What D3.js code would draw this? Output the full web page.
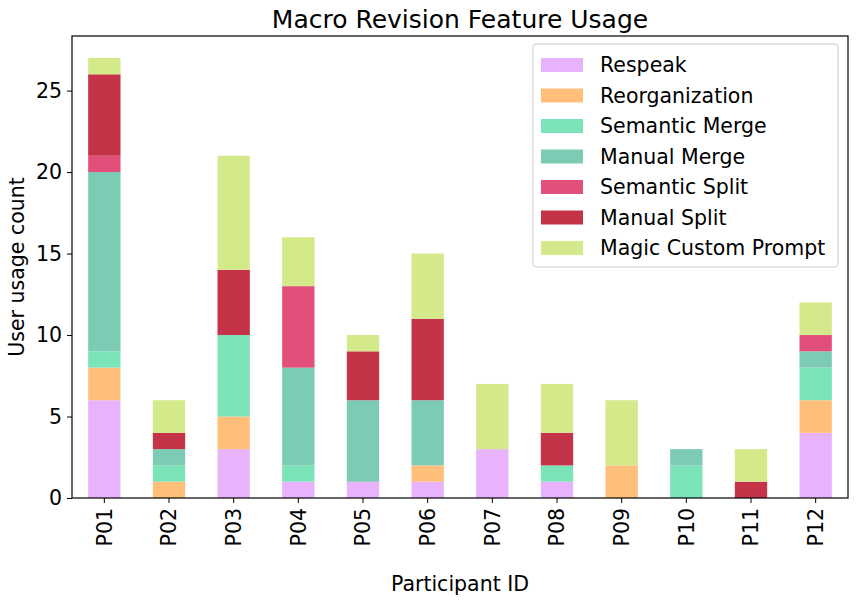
<!DOCTYPE html>
<html>
<head>
<meta charset="utf-8">
<script src="https://cdn.jsdelivr.net/npm/d3@7"></script>
<style>
  html, body { margin: 0; padding: 0; background: #fff; overflow: hidden; }
  svg { display: block; }
  text { font-family: "DejaVu Sans", sans-serif; }
</style>
</head>
<body>
<svg id="chart" width="856" height="605"></svg>
<script>
const participants = ["P01", "P02", "P03", "P04", "P05", "P06", "P07", "P08", "P09", "P10", "P11", "P12"];
const features = ["Respeak", "Reorganization", "Semantic Merge", "Manual Merge", "Semantic Split", "Manual Split", "Magic Custom Prompt"];
const colors = ["#e8b3fc", "#ffbf7a", "#7ae3b7", "#7bcbb5", "#e34f7b", "#c43348", "#d3e98a"];

const respeak      = [6, 0, 3, 1, 1, 1, 3, 1, 0, 0, 0, 4];
const reorg        = [2, 1, 2, 0, 0, 1, 0, 0, 2, 0, 0, 2];
const semMerge     = [1, 1, 5, 1, 0, 0, 0, 1, 0, 2, 0, 2];
const manualMerge  = [11, 1, 0, 6, 5, 4, 0, 0, 0, 1, 0, 1];
const semSplit     = [1, 0, 0, 5, 0, 0, 0, 0, 0, 0, 0, 1];
const manualSplit  = [5, 1, 4, 0, 3, 5, 0, 2, 0, 0, 1, 0];
const magic        = [1, 2, 7, 3, 1, 4, 4, 3, 4, 0, 2, 2];
const yTicks = [0, 5, 10, 15, 20, 25];

const series = [respeak, reorg, semMerge, manualMerge, semSplit, manualSplit, magic];

// build table for d3.stack
const table = participants.map((p, i) => {
  const row = { id: p };
  features.forEach((f, k) => { row[f] = series[k][i]; });
  return row;
});

const svg = d3.select("#chart");
const margin = { top: 36, left: 72, right: 8, bottom: 107 };
const width = +svg.attr("width");
const height = +svg.attr("height");
const innerWidth = width - margin.left - margin.right;
const innerHeight = height - margin.top - margin.bottom;

const stacked = d3.stack().keys(features)(table);
const maxTotal = d3.max(table, d => d3.sum(features, f => d[f]));

const xScale = d3.scaleBand()
  .domain(participants)
  .range([0, innerWidth])
  .paddingInner(0.5)
  .paddingOuter(0.25);

const yScale = d3.scaleLinear()
  .domain([0, maxTotal * 1.05])
  .range([innerHeight, 0]);

const color = d3.scaleOrdinal().domain(features).range(colors);

const g = svg.append("g").attr("transform", `translate(${margin.left},${margin.top})`);

// bars
g.selectAll("g.layer")
  .data(stacked)
  .enter()
  .append("g")
  .attr("class", "layer")
  .attr("fill", d => color(d.key))
  .selectAll("rect")
  .data(d => d)
  .enter()
  .append("rect")
  .attr("x", d => xScale(d.data.id))
  .attr("width", xScale.bandwidth())
  .attr("y", d => yScale(d[1]))
  .attr("height", d => yScale(d[0]) - yScale(d[1]));

// axes
const yAxisG = g.append("g")
  .call(d3.axisLeft(yScale).tickValues(yTicks).tickSize(5).tickPadding(5));
yAxisG.selectAll("text").attr("font-size", 20.5).attr("fill", "#000");

const xAxisG = g.append("g")
  .attr("transform", `translate(0,${innerHeight})`)
  .call(d3.axisBottom(xScale).tickSize(5).tickSizeOuter(0));
xAxisG.selectAll("text")
  .attr("font-size", 20.5)
  .attr("fill", "#000")
  .attr("transform", "rotate(-90)")
  .attr("text-anchor", "end")
  .attr("dy", "0.35em")
  .attr("x", -10)
  .attr("y", 0);

g.selectAll(".domain").remove();
g.selectAll(".tick line").attr("stroke", "#000");

// frame
g.append("rect")
  .attr("width", innerWidth)
  .attr("height", innerHeight)
  .attr("fill", "none")
  .attr("stroke", "#000")
  .attr("stroke-width", 1.2);

// titles
svg.append("text")
  .attr("x", margin.left + innerWidth / 2)
  .attr("y", 28)
  .attr("text-anchor", "middle")
  .attr("font-size", 25)
  .text("Macro Revision Feature Usage");

svg.append("text")
  .attr("x", margin.left + innerWidth / 2)
  .attr("y", 591)
  .attr("text-anchor", "middle")
  .attr("font-size", 20.5)
  .text("Participant ID");

svg.append("text")
  .attr("transform", `translate(24,${margin.top + innerHeight / 2}) rotate(-90)`)
  .attr("text-anchor", "middle")
  .attr("font-size", 20.5)
  .text("User usage count");

// legend
const legend = svg.append("g").attr("transform", "translate(533,44)");
legend.append("rect")
  .attr("width", 305)
  .attr("height", 223)
  .attr("rx", 3)
  .attr("fill", "#fff")
  .attr("fill-opacity", 0.8)
  .attr("stroke", "#ccc");

const item = legend.selectAll("g.item")
  .data(features)
  .enter()
  .append("g")
  .attr("class", "item")
  .attr("transform", (d, i) => `translate(8,${14 + i * 30.5})`);
item.append("rect")
  .attr("width", 42)
  .attr("height", 14)
  .attr("fill", d => color(d));
item.append("text")
  .attr("x", 59)
  .attr("y", 7)
  .attr("dy", "0.35em")
  .attr("font-size", 20.5)
  .text(d => d);
</script>
</body>
</html>
